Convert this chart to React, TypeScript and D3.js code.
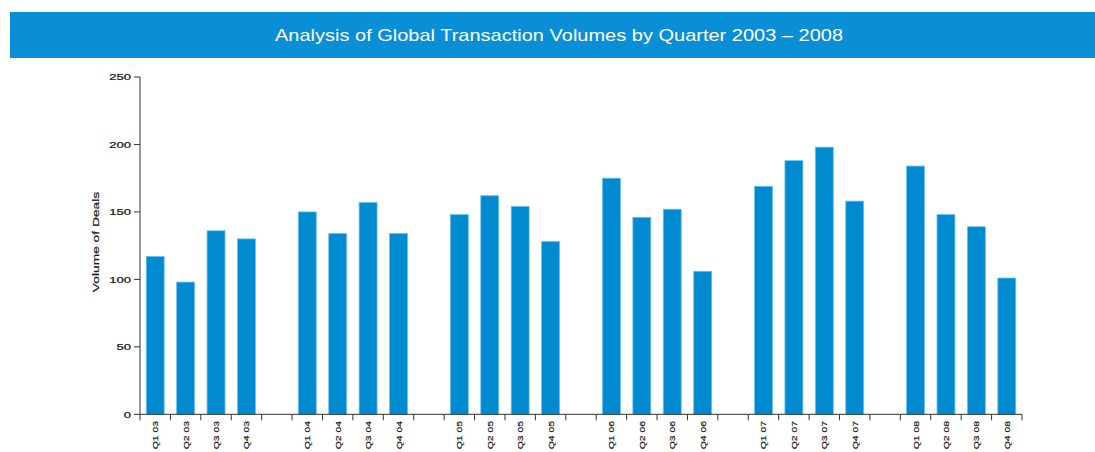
import React from "react";
import * as d3 from "d3";

const title = "Analysis of Global Transaction Volumes by Quarter 2003 \u2013 2008";
const years = ["03", "04", "05", "06", "07", "08"];
const quarters = ["Q1", "Q2", "Q3", "Q4"];
const values03 = [117, 98, 136, 130];
const values04 = [150, 134, 157, 134];
const values05 = [148, 162, 154, 128];
const values06 = [175, 146, 152, 106];
const values07 = [169, 188, 198, 158];
const values08 = [184, 148, 139, 101];
const yTicks = [0, 50, 100, 150, 200, 250];
const yLabel = "Volume of Deals";

const seriesByYear = [values03, values04, values05, values06, values07, values08];

type Bar = { key: string; label: string; value: number };
const bars: Bar[] = [];
const domain: string[] = [];
years.forEach((yr, yi) => {
  quarters.forEach((q, qi) => {
    const key = `${q} ${yr}`;
    bars.push({ key, label: key, value: seriesByYear[yi][qi] });
    domain.push(key);
  });
  if (yi < years.length - 1) domain.push(`gap-${yr}`);
});

const W = 1095;
const H = 452;
const x0 = 140;
const x1 = 1022;
const yBase = 414.3;
const yTop = 77;
const FONT = "'Liberation Sans', Arial, Helvetica, sans-serif";
const SX = 1.45;

export default function App() {
  const x = d3.scaleBand<string>().domain(domain).range([x0, x1]).paddingInner(0.41).paddingOuter(0.205);
  const y = d3.scaleLinear().domain([0, 250]).range([yBase, yTop]);
  const step = x.step();
  const boundaries = d3.range(domain.length + 1).map((i) => x0 + i * step);

  return (
    <svg width={W} height={H} style={{ position: "absolute", left: 0, top: 0, background: "#fff" }}>
      <rect x={10} y={12} width={W - 10} height={46} fill="#0a8ed5" />
      <text
        x={559}
        y={41}
        textAnchor="middle"
        fill="#fff"
        fontFamily={FONT}
        fontSize={17}
        textLength={568}
        lengthAdjust="spacingAndGlyphs"
      >
        {title}
      </text>

      {bars.map((b) => (
        <rect
          key={b.key}
          x={x(b.key)!}
          y={y(b.value)}
          width={x.bandwidth()}
          height={yBase - y(b.value)}
          fill="#008bd0"
          stroke="#6cc0ec"
          strokeWidth={0.8}
        />
      ))}

      {/* y axis */}
      <line x1={x0} x2={x0} y1={yTop} y2={yBase} stroke="#333" strokeWidth={1} />
      {yTicks.map((t) => (
        <g key={t} transform={`translate(0,${y(t)})`}>
          <line x1={x0 - 6} x2={x0} y1={0} y2={0} stroke="#333" />
          <text
            transform={`translate(${x0 - 9},3.2) scale(${SX},1)`}
            textAnchor="end"
            fontFamily={FONT}
            fontSize={9}
            fill="#1a1a1a"
            stroke="#1a1a1a"
            strokeWidth={0.25}
          >
            {t}
          </text>
        </g>
      ))}
      <text
        transform={`translate(99,242) rotate(-90) scale(${SX},1)`}
        textAnchor="middle"
        fontFamily={FONT}
        fontSize={9.5}
        fill="#1a1a1a"
        stroke="#1a1a1a"
        strokeWidth={0.2}
      >
        {yLabel}
      </text>

      {/* x axis */}
      <line x1={x0} x2={x1} y1={yBase} y2={yBase} stroke="#333" strokeWidth={1} />
      {boundaries.map((bx, i) => (
        <line key={i} x1={bx} x2={bx} y1={yBase} y2={yBase + 6} stroke="#333" />
      ))}
      {bars.map((b) => (
        <text
          key={b.key}
          transform={`translate(${x(b.key)! + x.bandwidth() / 2 + 3},421) rotate(-90) scale(1.3,1)`}
          textAnchor="end"
          fontFamily={FONT}
          fontSize={8}
          fill="#1a1a1a"
          stroke="#1a1a1a"
          strokeWidth={0.2}
        >
          {b.label}
        </text>
      ))}
    </svg>
  );
}
